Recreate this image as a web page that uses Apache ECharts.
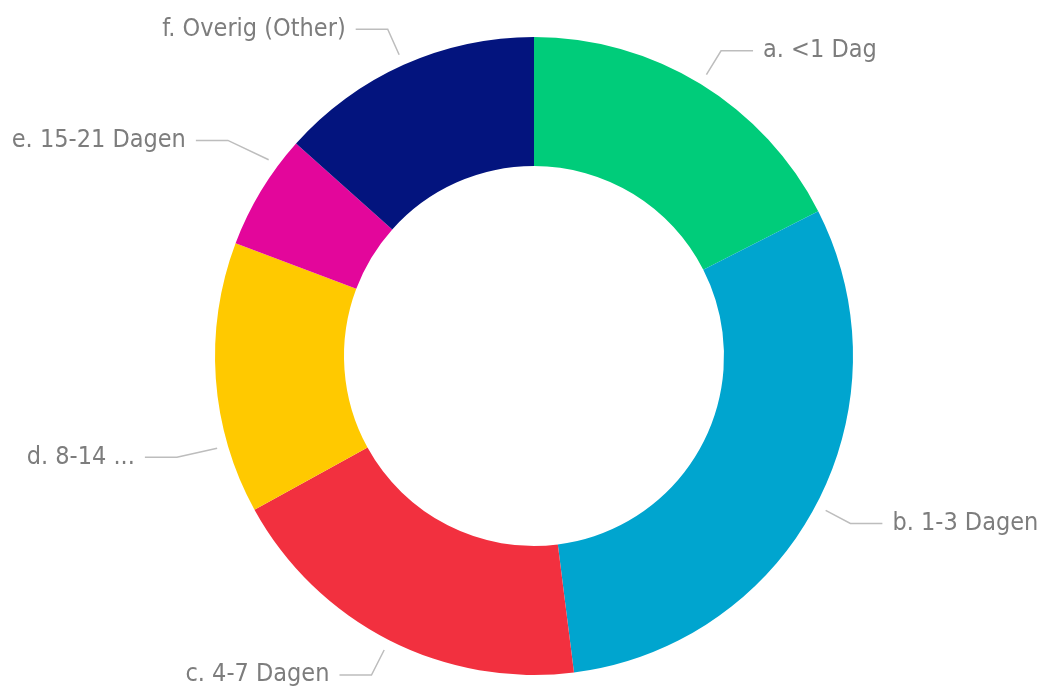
<!DOCTYPE html>
<html>
<head>
<meta charset="utf-8">
<title>Doorlooptijd</title>
<script src="https://cdn.jsdelivr.net/npm/echarts@6/dist/echarts.min.js"></script>
<style>
  html, body { margin: 0; padding: 0; background: #ffffff; }
  #chart { width: 1059px; height: 694px; }
</style>
</head>
<body>
<div id="chart"></div>
<script>
// Duration buckets and their shares (percent)
const categories = ['a. <1 Dag', 'b. 1-3 Dagen', 'c. 4-7 Dagen', 'd. 8-14 ...', 'e. 15-21 Dagen', 'f. Overig (Other)'];
const shares = [17.5, 30.5, 19.0, 13.75, 5.85, 13.4];
const sliceColors = ['#00CC7A', '#00A5CF', '#F2303F', '#FFC900', '#E3069B', '#03147E'];

const chart = echarts.init(document.getElementById('chart'), null, { renderer: 'canvas' });

const CENTER = [534, 356];
const RING = [190, 319];
const LABEL_RING = 330;   // label lines start a little outside the ring

const pieData = categories.map((name, i) => ({
  name: name,
  value: shares[i],
  itemStyle: { color: sliceColors[i] }
}));

const labelFont = "'Liberation Sans Narrow', 'DejaVu Sans Condensed', Roboto, sans-serif";

// vertical spread for the two crowded labels on the left side
const labelNudge = { 3: 76, 4: -30 };

chart.setOption({
  animation: false,
  series: [
    // visible ring
    {
      type: 'pie',
      center: CENTER,
      radius: RING,
      startAngle: 90,
      clockwise: true,
      silent: true,
      label: { show: false },
      labelLine: { show: false },
      data: pieData
    },
    // transparent ring that carries the outside labels
    {
      type: 'pie',
      center: CENTER,
      radius: [RING[0], LABEL_RING],
      startAngle: 90,
      clockwise: true,
      silent: true,
      itemStyle: { color: 'rgba(0,0,0,0)' },
      label: {
        show: true,
        position: 'outside',
        color: '#7d7d7d',
        fontFamily: labelFont,
        fontSize: 25,
        distanceToLabelLine: 10
      },
      labelLine: {
        show: true,
        length: 28,
        length2: 32,
        smooth: false,
        lineStyle: { color: '#bdbdbd', width: 1.5 }
      },
      labelLayout: function (params) {
        const shift = labelNudge[params.dataIndex];
        if (shift == null) return {};
        const pts = params.labelLinePoints;
        const r = params.labelRect;
        const bendY = pts[1][1] + shift;
        // re-attach the line to the ring just short of the label's height
        const startY = bendY + (CENTER[1] - bendY) * 0.09;
        const dy = startY - CENTER[1];
        const side = pts[2][0] < CENTER[0] ? -1 : 1;
        const startX = CENTER[0] + side * Math.sqrt(LABEL_RING * LABEL_RING - dy * dy);
        return {
          y: r.y + r.height / 2 + shift,
          labelLinePoints: [
            [startX, startY],
            [pts[1][0], bendY],
            [pts[2][0], pts[2][1] + shift]
          ]
        };
      },
      data: categories.map((name, i) => ({ name: name, value: shares[i] }))
    }
  ]
});
</script>
</body>
</html>
